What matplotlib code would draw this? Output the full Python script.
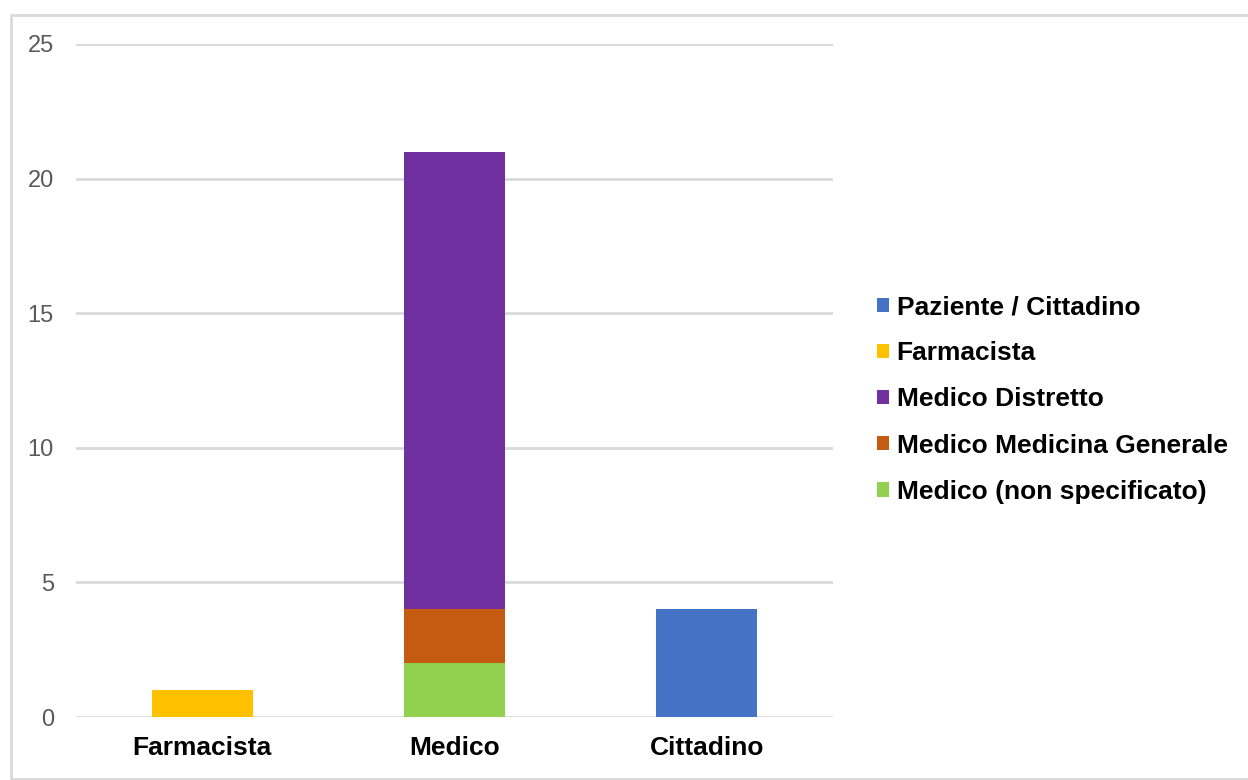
import matplotlib
matplotlib.use("Agg")
import matplotlib.pyplot as plt
from matplotlib.patches import Rectangle

categories = ["Farmacista", "Medico", "Cittadino"]
series_names = ["Paziente / Cittadino", "Farmacista", "Medico Distretto",
                "Medico Medicina Generale", "Medico (non specificato)"]
paziente = [0, 0, 4]
farmacista = [1, 0, 0]
medico_distretto = [0, 17, 0]
medico_mg = [0, 2, 0]
medico_ns = [0, 2, 0]
yticks = [0, 5, 10, 15, 20, 25]

colors = {
    "Paziente / Cittadino": "#4472C4",
    "Farmacista": "#FFC000",
    "Medico Distretto": "#7030A0",
    "Medico Medicina Generale": "#C55A11",
    "Medico (non specificato)": "#92D050",
}

plt.rcParams['font.family'] = ['Liberation Sans', 'DejaVu Sans']

fig = plt.figure(figsize=(12.48, 7.8), dpi=100)
ax = fig.add_axes([76/1248, 1-717/780, (833-76)/1248, (717-44)/780])

x = list(range(len(categories)))
w = 0.4
# stack order: bottom -> top
stack = [
    ("Medico (non specificato)", medico_ns),
    ("Medico Medicina Generale", medico_mg),
    ("Medico Distretto", medico_distretto),
    ("Farmacista", farmacista),
    ("Paziente / Cittadino", paziente),
]
bottom = [0]*len(categories)
handles = {}
for name, vals in stack:
    b = ax.bar(x, vals, width=w, bottom=bottom, color=colors[name], label=name, zorder=3)
    handles[name] = b
    bottom = [bo + v for bo, v in zip(bottom, vals)]

ax.set_xlim(-0.5, 2.5)
ax.set_ylim(0, 25)
ax.set_yticks(yticks)
ax.set_yticklabels([str(t) for t in yticks], fontsize=17, color="#595959")
ax.set_xticks(x)
ax.set_xticklabels(categories, fontsize=19, fontweight="bold", color="black")
ax.tick_params(axis="both", length=0)
ax.tick_params(axis="y", pad=16)
ax.tick_params(axis="x", pad=14)
ax.grid(axis="y", color="#D9D9D9", linewidth=2, zorder=0)
for s in ax.spines.values():
    s.set_visible(False)

leg = fig.legend([handles[n] for n in series_names], series_names,
                 loc="center left", bbox_to_anchor=(853/1248, 1-399.5/780),
                 frameon=False, prop={"size": 19, "weight": "bold"},
                 handlelength=0.45, handleheight=0.45, handletextpad=0.3,
                 labelspacing=0.84)

fig.patches.append(Rectangle((11/1248, 1-779/780), 1.0, (779-15)/780,
                             transform=fig.transFigure, fill=False,
                             edgecolor="#D9D9D9", linewidth=2))

fig.savefig("out.png", dpi=100, facecolor="white")
